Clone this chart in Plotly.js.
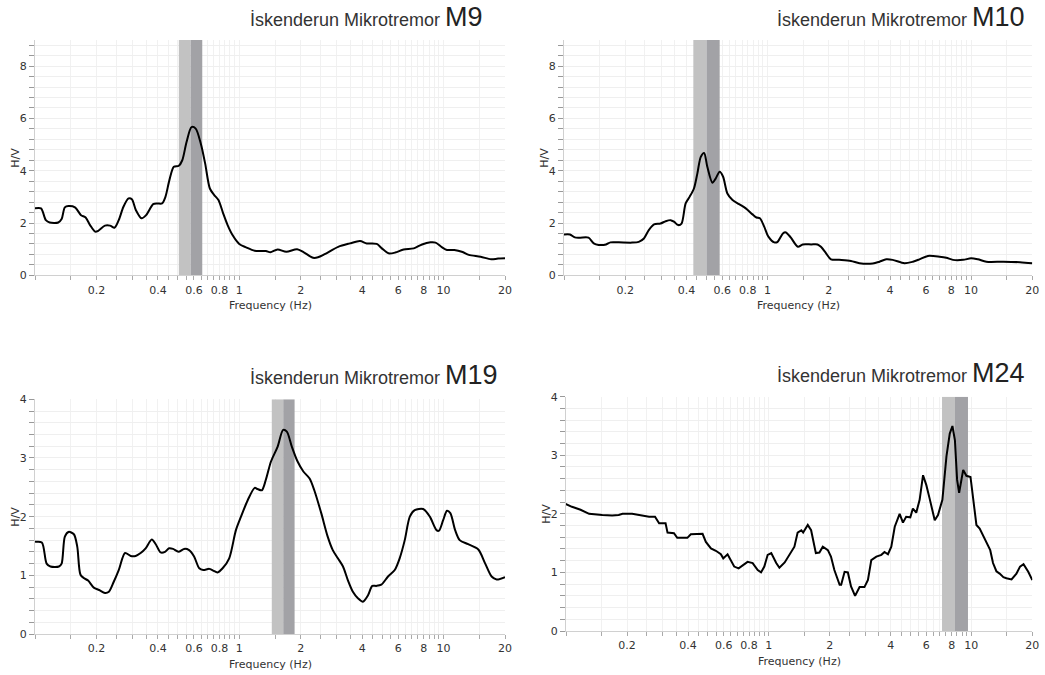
<!DOCTYPE html>
<html>
<head>
<meta charset="utf-8">
<script src="https://cdn.plot.ly/plotly-3.0.1.min.js"></script>
<style>html,body{margin:0;padding:0;background:#fff;}#chart{width:1045px;height:675px;}</style>
</head>
<body>
<div id="chart"></div>
<script>
// ---------- data ----------
const stations = ["M9", "M10", "M19", "M24"];

const freqM9 = [0.0996,0.107,0.113,0.118,0.130,0.135,0.140,0.146,0.157,0.168,0.177,0.186,0.197,0.204,0.220,0.233,0.245,0.257,0.271,0.287,0.298,0.312,0.332,0.350,0.379,0.396,0.419,0.435,0.455,0.478,0.506,0.526,0.552,0.584,0.612,0.648,0.681,0.718,0.754,0.791,0.834,0.877,0.927,1.0,1.08,1.19,1.35,1.42,1.54,1.70,1.92,2.07,2.30,2.43,2.62,3.05,3.48,3.90,4.21,4.71,4.99,5.38,5.80,6.38,7.15,7.85,8.63,9.14,9.85,10.4,11.3,12.4,13.3,15.2,17.1,18.5,20];
const hvM9 = [2.56,2.56,2.11,2.02,2.02,2.15,2.60,2.65,2.60,2.30,2.21,1.92,1.67,1.70,1.90,1.90,1.82,2.11,2.62,2.94,2.91,2.49,2.18,2.30,2.72,2.75,2.75,3.00,3.64,4.15,4.19,4.40,5.10,5.67,5.61,5.04,4.27,3.32,3.07,2.88,2.37,1.92,1.54,1.20,1.07,0.94,0.93,0.88,0.99,0.90,1.00,0.88,0.67,0.69,0.81,1.09,1.22,1.31,1.22,1.20,1.03,0.84,0.87,0.99,1.03,1.18,1.26,1.25,1.07,0.97,0.97,0.89,0.78,0.71,0.61,0.64,0.65];

const freqM10 = [0.0996,0.107,0.113,0.120,0.132,0.140,0.148,0.161,0.169,0.186,0.216,0.233,0.247,0.261,0.277,0.298,0.316,0.334,0.347,0.364,0.378,0.396,0.414,0.435,0.452,0.470,0.488,0.506,0.536,0.556,0.582,0.605,0.635,0.673,0.725,0.782,0.844,0.883,0.917,0.963,1.01,1.08,1.12,1.19,1.23,1.30,1.41,1.49,1.64,1.76,1.83,1.94,2.05,2.25,2.57,2.83,3.29,3.55,3.83,4.12,4.71,5.18,5.58,6.14,7.01,7.56,8.15,9.14,10.0,10.8,11.9,14.4,17.4,20];
const hvM10 = [1.56,1.56,1.45,1.44,1.44,1.22,1.16,1.18,1.26,1.26,1.25,1.28,1.41,1.73,1.95,1.98,2.07,2.11,2.05,1.92,1.98,2.75,3.00,3.32,3.89,4.53,4.68,4.15,3.54,3.70,3.96,3.77,3.13,2.88,2.72,2.56,2.33,2.21,2.18,1.86,1.48,1.26,1.28,1.60,1.64,1.45,1.09,1.18,1.18,1.18,1.09,0.84,0.61,0.59,0.55,0.46,0.45,0.52,0.61,0.59,0.46,0.52,0.61,0.74,0.71,0.67,0.59,0.59,0.65,0.61,0.52,0.52,0.50,0.46];

const freqM19 = [0.1,0.108,0.114,0.119,0.131,0.135,0.140,0.146,0.155,0.161,0.167,0.174,0.182,0.194,0.206,0.220,0.230,0.243,0.257,0.276,0.294,0.311,0.329,0.348,0.373,0.390,0.412,0.433,0.453,0.474,0.504,0.537,0.568,0.601,0.637,0.666,0.713,0.745,0.783,0.829,0.893,0.963,1.02,1.10,1.19,1.23,1.29,1.35,1.43,1.54,1.64,1.71,1.81,1.93,2.06,2.21,2.33,2.52,2.71,2.87,3.04,3.22,3.40,3.60,3.81,4.03,4.27,4.48,4.69,4.96,5.35,5.77,6.10,6.46,6.84,7.23,7.95,8.57,9.24,9.5,9.96,10.4,10.8,11.4,12.0,13.2,14.8,16.0,17.2,18.2,20];
const hvM19 = [1.57,1.56,1.20,1.15,1.15,1.20,1.66,1.74,1.70,1.49,1.01,0.95,0.91,0.79,0.75,0.70,0.72,0.89,1.09,1.38,1.33,1.33,1.38,1.46,1.61,1.53,1.39,1.40,1.46,1.45,1.40,1.45,1.43,1.32,1.12,1.09,1.11,1.08,1.05,1.12,1.29,1.77,2.00,2.28,2.49,2.47,2.45,2.63,2.94,3.19,3.48,3.45,3.19,2.94,2.77,2.65,2.45,2.06,1.66,1.43,1.29,1.15,0.92,0.72,0.61,0.55,0.66,0.82,0.82,0.84,0.98,1.09,1.29,1.60,2.00,2.11,2.13,2.00,1.77,1.76,1.94,2.10,2.06,1.77,1.60,1.53,1.44,1.20,0.98,0.93,0.97];

const freqM24 = [0.0994,0.107,0.118,0.127,0.130,0.151,0.169,0.182,0.190,0.212,0.247,0.257,0.275,0.288,0.310,0.317,0.341,0.354,0.397,0.413,0.472,0.490,0.519,0.549,0.581,0.597,0.627,0.651,0.676,0.711,0.749,0.787,0.834,0.883,0.917,0.952,0.989,1.03,1.09,1.13,1.20,1.27,1.34,1.39,1.45,1.48,1.56,1.62,1.71,1.78,1.85,1.96,2.03,2.11,2.24,2.28,2.37,2.46,2.55,2.67,2.81,2.97,3.09,3.21,3.40,3.60,3.73,3.88,4.03,4.19,4.43,4.60,4.77,5.0,5.15,5.35,5.56,5.78,6.0,6.23,6.60,6.85,7.20,7.54,7.83,8.07,8.30,8.51,8.71,9.12,9.46,9.91,10.2,10.6,11.0,11.7,12.4,12.8,13.3,13.8,14.4,14.9,15.8,16.7,17.4,18.1,19.1,20];
const hvM24 = [2.17,2.12,2.07,2.01,2.00,1.98,1.97,1.98,2.00,2.00,1.97,1.95,1.95,1.84,1.84,1.68,1.67,1.59,1.59,1.65,1.66,1.52,1.41,1.37,1.31,1.24,1.31,1.20,1.10,1.07,1.12,1.18,1.16,1.04,1.00,1.10,1.30,1.33,1.16,1.08,1.17,1.30,1.44,1.68,1.72,1.68,1.81,1.72,1.33,1.34,1.44,1.38,1.27,1.04,0.79,0.79,1.01,1.00,0.76,0.60,0.75,0.75,0.87,1.21,1.27,1.30,1.35,1.31,1.44,1.78,2.00,1.85,1.95,1.94,2.09,2.02,2.24,2.66,2.49,2.26,1.89,1.98,2.24,2.98,3.37,3.50,3.26,2.58,2.36,2.75,2.65,2.63,2.29,1.81,1.75,1.55,1.38,1.16,1.02,0.98,0.92,0.90,0.88,0.98,1.10,1.14,1.01,0.87];

// peak bands: [lower, f0, upper]
const bandM9 = [0.506, 0.578, 0.659];
const bandM10 = [0.432, 0.502, 0.582];
const bandM19 = [1.443, 1.642, 1.866];
const bandM24 = [7.17, 8.31, 9.63];

const xTickLabels = ["0.2", "0.4", "0.6", "0.8", "1", "2", "4", "6", "8", "10", "20"];
const yMaxTop = 9, yMaxBottom = 4;
const titlePrefix = "İskenderun Mikrotremor";
const xTitle = "Frequency (Hz)";
const yTitle = "H/V";

// ---------- layout helpers ----------
const W = 1045, H = 675;
const px = v => v / W;
const py = v => 1 - v / H;

// tick positions on the log axis (every half step per decade)
const xTickVals = [];
[0.1, 1, 10].forEach(dec => {
  for (let m = 1; m < 10; m += 0.5) {
    const v = +(m * dec).toFixed(4);
    if (v <= 20.0001) xTickVals.push(v);
  }
});
xTickVals.push(20);
const xTickText = xTickVals.map(v => {
  const s = String(+v.toFixed(3));
  return xTickLabels.includes(s) ? s : "";
});

function yTicks(max, step, labelEvery) {
  const vals = [], txt = [];
  const n = Math.round(max / step);
  for (let i = 0; i <= n; i++) {
    const v = +(i * step).toFixed(4);
    vals.push(v);
    const isInt = Math.abs(v - Math.round(v)) < 1e-6;
    txt.push(isInt && Math.round(v) % labelEvery === 0 ? String(Math.round(v)) : "");
  }
  return { vals, txt };
}
const yTop = yTicks(8.8, 0.4, 2);
const yBot = yTicks(4, 0.2, 1);

const panels = [
  { name: "M9",  f: freqM9,  hv: hvM9,  band: bandM9,  xd: [35, 505],    yd: [40, 275.3], ymax: yMaxTop, yt: yTop, shape: "spline", titleR: 485, titleY: 17 },
  { name: "M10", f: freqM10, hv: hvM10, band: bandM10, xd: [564, 1032.3], yd: [40, 275.3], ymax: yMaxTop, yt: yTop, shape: "spline", titleR: 1027, titleY: 17 },
  { name: "M19", f: freqM19, hv: hvM19, band: bandM19, xd: [35, 505],    yd: [399.3, 634], ymax: yMaxBottom, yt: yBot, shape: "spline", titleR: 500, titleY: 375 },
  { name: "M24", f: freqM24, hv: hvM24, band: bandM24, xd: [566, 1032.3], yd: [396.7, 631], ymax: yMaxBottom, yt: yBot, shape: "linear", titleR: 1027, titleY: 373 }
];

const tickFont = { family: "DejaVu Sans, Verdana, sans-serif", size: 11, color: "#333" };
const traces = [], annotations = [];
const layout = {
  width: W, height: H,
  margin: { l: 0, r: 0, t: 0, b: 0 },
  paper_bgcolor: "#fff", plot_bgcolor: "#fff",
  showlegend: false
};

panels.forEach((p, i) => {
  const k = i === 0 ? "" : String(i + 1);
  const xa = "x" + k, ya = "y" + k;
  // peak frequency bands (lower half light, upper half dark)
  traces.push({
    type: "scatter", mode: "none", xaxis: xa, yaxis: ya, fill: "toself", fillcolor: "#c2c2c2",
    x: [p.band[0], p.band[0], p.band[1], p.band[1]], y: [0, p.ymax, p.ymax, 0], hoverinfo: "skip"
  });
  traces.push({
    type: "scatter", mode: "none", xaxis: xa, yaxis: ya, fill: "toself", fillcolor: "#a2a2a6",
    x: [p.band[1], p.band[1], p.band[2], p.band[2]], y: [0, p.ymax, p.ymax, 0], hoverinfo: "skip"
  });
  traces.push({
    type: "scatter", mode: "lines", x: p.f, y: p.hv, xaxis: xa, yaxis: ya,
    line: { color: "#000", width: 2, shape: p.shape, smoothing: 0.8 },
    hoverinfo: "x+y", name: p.name
  });
  layout["xaxis" + k] = {
    type: "log", range: [-1, Math.log10(20)], domain: [px(p.xd[0]), px(p.xd[1])], anchor: ya,
    tickmode: "array", tickvals: xTickVals, ticktext: xTickText,
    ticks: "outside", ticklen: 4, tickcolor: "#aaa", tickwidth: 1,
    showgrid: true, gridcolor: "#f1f1f1", gridwidth: 1,
    showline: true, linecolor: "#d0d0d0", linewidth: 1, zeroline: false,
    tickfont: tickFont, fixedrange: true
  };
  layout["yaxis" + k] = {
    range: [0, p.ymax], domain: [py(p.yd[1]), py(p.yd[0])], anchor: xa,
    tickmode: "array", tickvals: p.yt.vals, ticktext: p.yt.txt,
    ticks: "outside", ticklen: 5, tickcolor: "#999", tickwidth: 1,
    showgrid: true, gridcolor: "#efefef", gridwidth: 1,
    showline: true, linecolor: "#d0d0d0", linewidth: 1, zeroline: false,
    tickfont: tickFont, fixedrange: true
  };
  // panel title
  annotations.push({
    xref: "paper", yref: "paper", x: px(p.titleR), y: py(p.titleY), xanchor: "right", yanchor: "middle",
    text: titlePrefix + ' <span style="font-size:27px;color:#222">' + p.name + '</span>',
    showarrow: false, font: { family: "Liberation Sans, Arial, sans-serif", size: 18, color: "#333" }
  });
  // axis titles
  annotations.push({
    xref: "paper", yref: "paper", x: px((p.xd[0] + p.xd[1]) / 2), y: py(p.yd[1] + 30), xanchor: "center", yanchor: "middle",
    text: xTitle, showarrow: false, font: tickFont
  });
  annotations.push({
    xref: "paper", yref: "paper", x: px(p.xd[0] - 19), y: py((p.yd[0] + p.yd[1]) / 2), xanchor: "center", yanchor: "middle",
    text: yTitle, textangle: -90, showarrow: false, font: tickFont
  });
});

layout.annotations = annotations;

Plotly.newPlot("chart", traces, layout, { displayModeBar: false, staticPlot: true });
</script>
</body>
</html>
